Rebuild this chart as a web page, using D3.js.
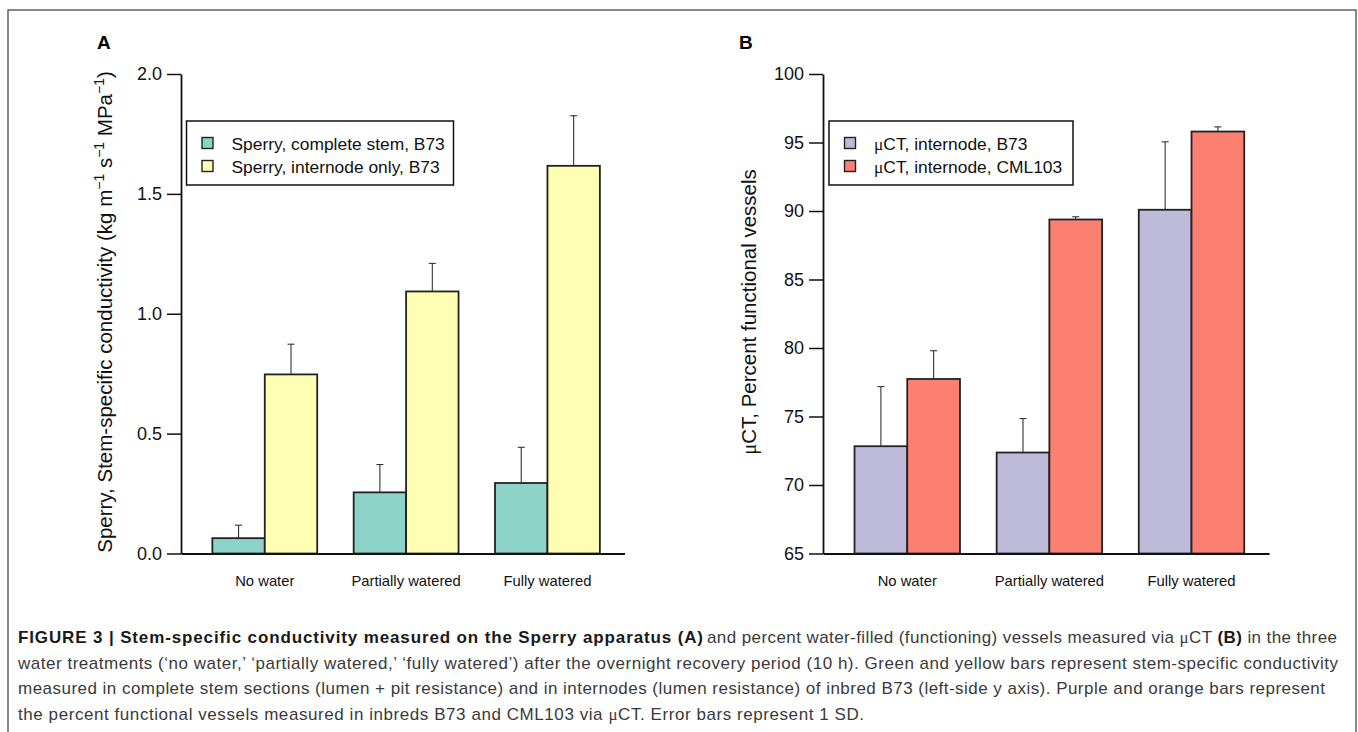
<!DOCTYPE html>
<html>
<head>
<meta charset="utf-8">
<script src="https://cdn.jsdelivr.net/npm/d3@7"></script>
<style>
  html, body { margin: 0; padding: 0; background: #fff; }
  svg { display: block; font-family: "Liberation Sans", Arial, Helvetica, sans-serif; }
</style>
</head>
<body>
<svg id="fig" width="1358" height="732"></svg>
<script>
// Treatments shared by both panels
const categories = ["No water", "Partially watered", "Fully watered"];

// Panel A: Sperry apparatus, stem-specific conductivity (kg m-1 s-1 MPa-1), B73
const sperryStem = [0.064, 0.255, 0.294];
const sperryStemSD = [0.054, 0.116, 0.149];
const sperryInternode = [0.747, 1.093, 1.617];
const sperryInternodeSD = [0.126, 0.117, 0.209];
const ticksA = [0, 0.5, 1.0, 1.5, 2.0];

// Panel B: microCT, percent functional vessels
const ctB73 = [72.83, 72.37, 90.09];
const ctB73SD = [4.35, 2.48, 4.96];
const ctCML103 = [77.74, 89.38, 95.80];
const ctCML103SD = [2.06, 0.20, 0.34];
const ticksB = [65, 70, 75, 80, 85, 90, 95, 100];

const svg = d3.select("#fig");

// Outer figure frame (bottom edge runs off the page)
svg.append("rect")
  .attr("x", 8).attr("y", 10).attr("width", 1348).attr("height", 760)
  .attr("fill", "none").attr("stroke", "#555").attr("stroke-width", 1.4);

function panel(opts) {
  const g = svg.append("g");
  const y = d3.scaleLinear().domain(opts.domain).range([553.5, 74]);
  const x0 = d3.scaleBand().domain(categories)
    .range([opts.left, opts.right])
    .paddingInner(0.258).paddingOuter(0.198).align(0.56);
  const x1 = d3.scaleBand().domain([0, 1]).range([0, x0.bandwidth()]);

  // bars
  opts.series.forEach((s, si) => {
    const bars = g.append("g");
    categories.forEach((c, ci) => {
      const bx = x0(c) + x1(si);
      const top = y(s.values[ci]);
      bars.append("rect")
        .attr("x", bx).attr("y", top)
        .attr("width", x1.bandwidth()).attr("height", y(opts.domain[0]) - top)
        .attr("fill", s.color).attr("stroke", "#222").attr("stroke-width", 1.8);
      // upper error bar (1 SD)
      const cx = bx + x1.bandwidth() / 2;
      const eTop = y(s.values[ci] + s.sd[ci]);
      bars.append("line")
        .attr("x1", cx).attr("x2", cx).attr("y1", top).attr("y2", eTop)
        .attr("stroke", "#333").attr("stroke-width", 1.1);
      bars.append("line")
        .attr("x1", cx - 3.5).attr("x2", cx + 3.5).attr("y1", eTop).attr("y2", eTop)
        .attr("stroke", "#333").attr("stroke-width", 1.1);
    });
  });

  // y axis
  const yAxis = d3.axisLeft(y).tickValues(opts.ticks).tickFormat(opts.fmt)
    .tickSizeInner(14).tickSizeOuter(0).tickPadding(5);
  const ya = g.append("g").attr("transform", `translate(${opts.left},0)`).call(yAxis);
  ya.select(".domain").attr("stroke", "#111").attr("stroke-width", 1.8);
  ya.selectAll(".tick line").attr("stroke", "#111").attr("stroke-width", 1.5);
  ya.selectAll(".tick text").attr("font-size", 18).attr("fill", "#111")
    .attr("font-family", "Liberation Sans, Arial, sans-serif");

  // x axis baseline and category labels
  const xAxis = d3.axisBottom(x0).tickSize(0).tickPadding(22);
  const xa = g.append("g").attr("transform", `translate(0,${y(opts.domain[0])})`).call(xAxis);
  xa.select(".domain").attr("stroke", "#111").attr("stroke-width", 1.8);
  xa.selectAll(".tick text").attr("font-size", 14.8).attr("fill", "#111")
    .attr("font-family", "Liberation Sans, Arial, sans-serif");

  // panel letter
  g.append("text").attr("x", opts.letterX).attr("y", 49)
    .attr("font-size", 19).attr("font-weight", "bold").attr("fill", "#000")
    .text(opts.letter);

  // y axis title
  const yt = g.append("text")
    .attr("transform", `translate(${opts.titleX},312) rotate(-90)`)
    .attr("text-anchor", "middle").attr("font-size", 20.5).attr("fill", "#111");
  opts.title(yt);

  // legend
  const lg = g.append("g");
  lg.append("rect")
    .attr("x", opts.legend.x).attr("y", 121)
    .attr("width", opts.legend.w).attr("height", 64)
    .attr("fill", "#fff").attr("stroke", "#111").attr("stroke-width", 1.5);
  opts.series.forEach((s, si) => {
    const cy = 143 + si * 23;
    lg.append("rect")
      .attr("x", opts.legend.x + 15.5).attr("y", cy - 5.5)
      .attr("width", 11).attr("height", 11)
      .attr("fill", s.color).attr("stroke", "#222").attr("stroke-width", 1.4);
    const t = lg.append("text")
      .attr("x", opts.legend.x + 45).attr("y", cy + 6.5)
      .attr("font-size", 17.4).attr("fill", "#111");
    s.label(t);
  });
}

function muLabel(rest) {
  return t => {
    t.append("tspan").attr("font-family", "Liberation Serif, serif").text("\u03bc");
    t.append("tspan").text(rest);
  };
}

panel({
  domain: [0, 2.0], ticks: ticksA, fmt: d3.format(".1f"),
  left: 181, right: 624.5,
  letter: "A", letterX: 97,
  titleX: 112,
  title: t => {
    t.append("tspan").text("Sperry, Stem-specific conductivity (kg m");
    t.append("tspan").attr("font-size", 14).attr("dy", -8).text("\u22121");
    t.append("tspan").attr("dy", 8).text(" s");
    t.append("tspan").attr("font-size", 14).attr("dy", -8).text("\u22121");
    t.append("tspan").attr("dy", 8).text(" MPa");
    t.append("tspan").attr("font-size", 14).attr("dy", -8).text("\u22121");
    t.append("tspan").attr("dy", 8).text(")");
  },
  legend: { x: 186.5, w: 267 },
  series: [
    { values: sperryStem, sd: sperryStemSD, color: "#8dd3c7",
      label: t => t.text("Sperry, complete stem, B73") },
    { values: sperryInternode, sd: sperryInternodeSD, color: "#ffffb3",
      label: t => t.text("Sperry, internode only, B73") }
  ]
});

panel({
  domain: [65, 100], ticks: ticksB, fmt: d3.format("d"),
  left: 823, right: 1269,
  letter: "B", letterX: 739,
  titleX: 756,
  title: t => {
    t.append("tspan").attr("font-family", "Liberation Serif, serif").text("\u03bc");
    t.append("tspan").text("CT, Percent functional vessels");
  },
  legend: { x: 829, w: 244 },
  series: [
    { values: ctB73, sd: ctB73SD, color: "#bebada",
      label: muLabel("CT, internode, B73") },
    { values: ctCML103, sd: ctCML103SD, color: "#fb8072",
      label: muLabel("CT, internode, CML103") }
  ]
});

// Figure caption: runs of text, each set to its line span [x0, x1]
const captionRuns = [
  { x0: 18, x1: 703, y: 643, parts: [["b", "FIGURE 3 | Stem-specific conductivity measured on the Sperry apparatus (A)"]] },
  { x0: 707, x1: 1337, y: 643, parts: [["r", "and percent water-filled (functioning) vessels measured via "], ["mu", "\u03bc"],
     ["r", "CT "], ["b", "(B)"], ["r", " in the three"]] },
  { x0: 18, x1: 1338, y: 668.5, parts: [["r", "water treatments (\u2018no water,\u2019 \u2018partially watered,\u2019 \u2018fully watered\u2019) after the overnight recovery period (10 h). Green and yellow bars represent stem-specific conductivity"]] },
  { x0: 18, x1: 1325, y: 694, parts: [["r", "measured in complete stem sections (lumen + pit resistance) and in internodes (lumen resistance) of inbred B73 (left-side y axis). Purple and orange bars represent"]] },
  { x0: 18, x1: 864, y: 719.5, parts: [["r", "the percent functional vessels measured in inbreds B73 and CML103 via "], ["mu", "\u03bc"],
     ["r", "CT. Error bars represent 1 SD."]] }
];
const cap = svg.append("g").attr("font-size", 17);
captionRuns.forEach(run => {
  const t = cap.append("text").attr("x", run.x0).attr("y", run.y).attr("fill", "#3a3a3a")
    .attr("textLength", run.x1 - run.x0).attr("lengthAdjust", "spacing");
  run.parts.forEach(([k, s]) => {
    const ts = t.append("tspan").text(s);
    if (k === "b") ts.attr("font-weight", "bold").attr("fill", "#1a1a1a");
    if (k === "mu") ts.attr("font-family", "Liberation Serif, serif");
  });
});
</script>
</body>
</html>
